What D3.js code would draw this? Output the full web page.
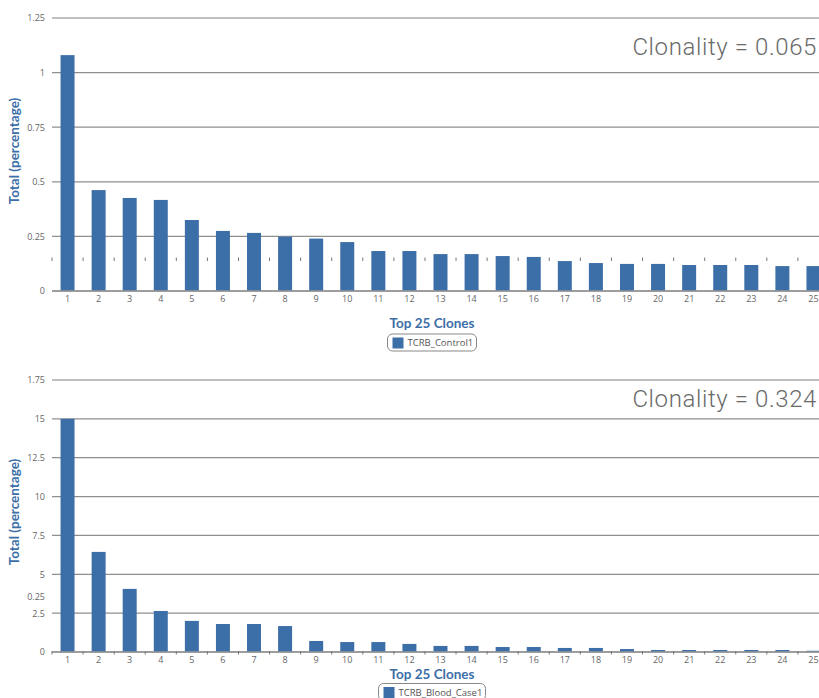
<!DOCTYPE html>
<html>
<head>
<meta charset="utf-8">
<script src="https://cdn.jsdelivr.net/npm/d3@7"></script>
<style>
body { margin: 0; background: #fff; }
svg { display: block; }
.tick-label { font-family: "Open Sans", sans-serif; font-size: 9px; fill: #666; }
.title { font-family: Lato, sans-serif; font-weight: bold; fill: #3c6ea8; }
.clonality { font-family: Roboto, sans-serif; font-weight: 300; font-size: 24px; letter-spacing: 0.6px; fill: #6a6a6a; }
.legend-text { font-family: "Open Sans", sans-serif; font-size: 9.5px; fill: #555; }
</style>
</head>
<body>
<div class="container"></div>
<script>
var clones = d3.range(1, 26).map(String);

var control1 = [1.08, 0.462, 0.426, 0.417, 0.325, 0.275, 0.266, 0.249, 0.240, 0.224,
    0.183, 0.183, 0.169, 0.169, 0.160, 0.156, 0.137, 0.128, 0.124, 0.124,
    0.119, 0.119, 0.119, 0.114, 0.114];

var bloodCase1 = [15.0, 6.44, 4.06, 2.64, 2.0, 1.80, 1.80, 1.67, 0.71, 0.64,
    0.64, 0.52, 0.39, 0.39, 0.32, 0.32, 0.26, 0.26, 0.19, 0.13,
    0.13, 0.13, 0.13, 0.13, 0.08];

var topTicks = [0, 0.25, 0.5, 0.75, 1, 1.25];
var topTickLabels = ['0', '0.25', '0.5', '0.75', '1', '1.25'];
var bottomTicks = [0, 2.5, 5, 7.5, 10, 12.5, 15, 17.5];
var bottomTickLabels = ['0', '2.5', '5', '7.5', '10', '12.5', '15', '1.75'];

var W = 819, H = 698;
var BAR = '#3c6ea8';
var translate = (x, y) => `translate(${ x },${ y })`;

var svg = d3.select('.container').append('svg')
    .attr('width', W)
    .attr('height', H);

var x = d3.scaleBand()
    .domain(clones)
    .range([52, 52 + 25 * 31.08])
    .paddingInner(0.55)
    .paddingOuter(0.275);

var yTop = d3.scaleLinear().domain([0, 1.25]).range([291, 18]);
var yBottom = d3.scaleLinear().domain([0, 17.5]).range([652, 380]);

var drawPanel = ({y, ticks, labels, data, tickY, clonality, clonalityY, legend, yTitle, xTitleY, legendY, legendW}) => {
    var g = svg.append('g');

    // grid lines
    g.selectAll('.grid').data(ticks).enter().append('line')
        .attr('x1', 52).attr('x2', W)
        .attr('y1', d => y(d)).attr('y2', d => y(d))
        .attr('stroke', (d, i) => i === ticks.length - 1 ? '#aaa' : '#8f8f8f')
        .attr('stroke-width', 1.3);

    // y labels
    var axis = d3.axisLeft(y)
        .tickValues(ticks)
        .tickSize(0)
        .tickPadding(7)
        .tickFormat((d, i) => labels[i]);
    var ax = g.append('g').attr('transform', translate(52, 0)).call(axis);
    ax.select('.domain').remove();
    ax.selectAll('text').attr('class', 'tick-label').attr('fill', null);

    // bars
    g.selectAll('.bar').data(data).enter().append('rect')
        .attr('x', (d, i) => x(clones[i]))
        .attr('width', x.bandwidth())
        .attr('y', d => y(d))
        .attr('height', d => y(0) - y(d))
        .attr('fill', BAR);

    // base line
    g.append('line')
        .attr('x1', 52).attr('x2', W)
        .attr('y1', y(0)).attr('y2', y(0))
        .attr('stroke', '#999').attr('stroke-width', 1.5);

    // category separator ticks
    g.selectAll('.sep').data(d3.range(26)).enter().append('line')
        .attr('x1', i => 52 + i * x.step()).attr('x2', i => 52 + i * x.step())
        .attr('y1', tickY).attr('y2', tickY + 3.5)
        .attr('stroke', '#777').attr('stroke-width', 1);

    // x labels
    g.selectAll('.xl').data(clones).enter().append('text')
        .attr('class', 'tick-label')
        .attr('x', d => x(d) + x.bandwidth() / 2)
        .attr('y', y(0) + 11)
        .attr('text-anchor', 'middle')
        .text(d => d);

    // clonality
    g.append('text').attr('class', 'clonality')
        .attr('x', 817).attr('y', clonalityY)
        .attr('text-anchor', 'end')
        .text(clonality);

    // y title
    g.append('text').attr('class', 'title')
        .attr('transform', translate(19, yTitle) + ' rotate(-90)')
        .attr('text-anchor', 'middle')
        .style('font-size', '13.5px')
        .text('Total (percentage)');

    // x title
    g.append('text').attr('class', 'title')
        .attr('x', 432).attr('y', xTitleY)
        .attr('text-anchor', 'middle')
        .style('font-size', '13.5px')
        .text('Top 25 Clones');

    // legend
    var lg = g.append('g').attr('transform', translate(432 - legendW / 2, legendY));
    lg.append('rect')
        .attr('width', legendW).attr('height', 17).attr('rx', 5)
        .attr('fill', '#fff').attr('stroke', '#888').attr('stroke-width', 1);
    lg.append('rect')
        .attr('x', 5).attr('y', 3.5).attr('width', 11).attr('height', 11)
        .attr('fill', BAR);
    lg.append('text').attr('class', 'legend-text')
        .attr('x', 20).attr('y', 12)
        .text(legend);
    return g;
}

drawPanel({
    y: yTop, ticks: topTicks, labels: topTickLabels, data: control1,
    tickY: 257.5, clonality: 'Clonality = 0.065', clonalityY: 55, legend: 'TCRB_Control1',
    yTitle: 151, xTitleY: 328, legendY: 334, legendW: 89
});

var bottom = drawPanel({
    y: yBottom, ticks: bottomTicks, labels: bottomTickLabels, data: bloodCase1,
    tickY: 651, clonality: 'Clonality = 0.324', clonalityY: 407, legend: 'TCRB_Blood_Case1',
    yTitle: 512, xTitleY: 679, legendY: 683.5, legendW: 107
});

// stray label left over from the upper scale
bottom.append('text').attr('class', 'tick-label')
    .attr('x', 45).attr('y', yBottom(0) - (yTop(0) - yTop(0.25)))
    .attr('dy', '0.32em')
    .attr('text-anchor', 'end')
    .text(topTickLabels[1]);
</script>
</body>
</html>
